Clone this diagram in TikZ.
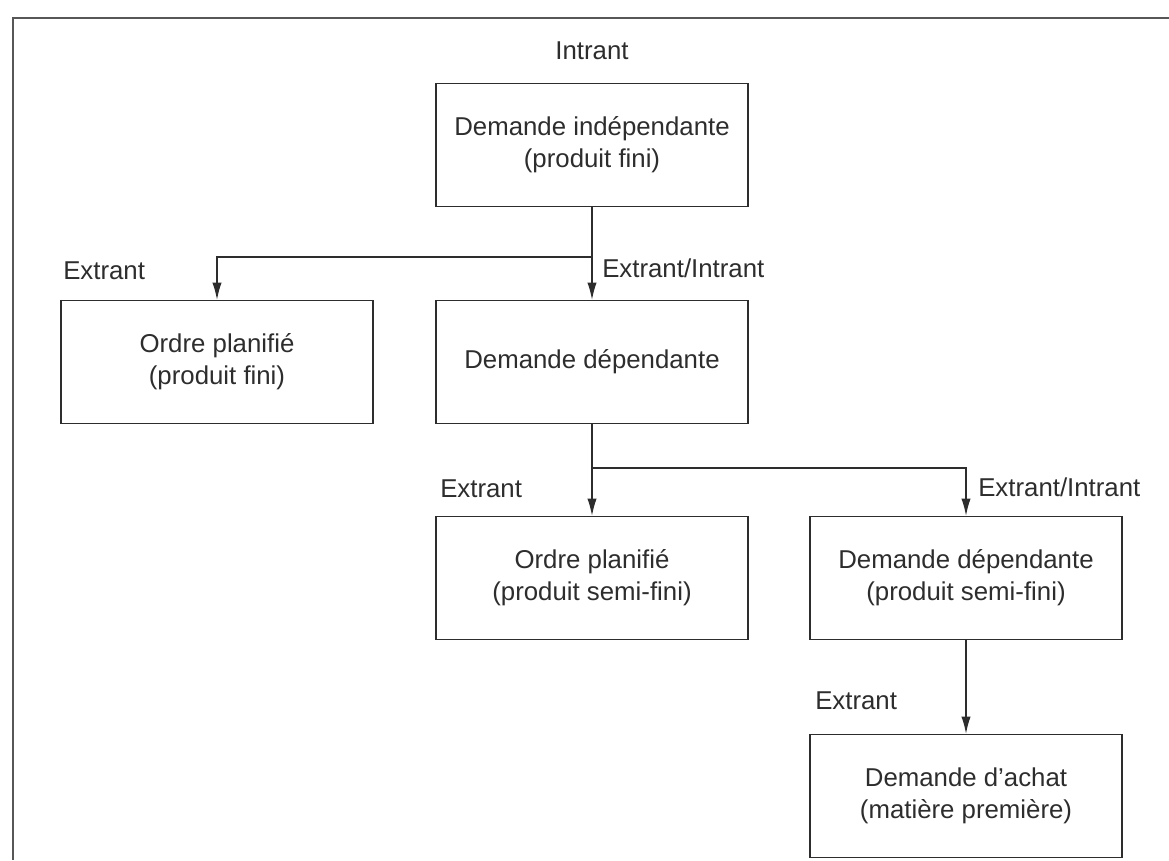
\documentclass[tikz,border=0pt]{standalone}
\usepackage{fontspec}
\setmainfont{Liberation Sans}
\usetikzlibrary{arrows.meta}
\definecolor{encre}{RGB}{45,45,45}
\newcommand{\txt}{\fontsize{19.35}{24}\selectfont}

\begin{document}
\begin{tikzpicture}[x=0.75pt,y=0.75pt,yscale=-1,xscale=1,
    bloc/.style={draw=encre, line width=1.1pt, minimum width=234pt, minimum height=92pt,
      inner sep=0pt, align=center, text=encre, font=\txt},
    fleche/.style={draw=encre, line width=1.1pt, -{Latex[length=13pt,width=7pt]}},
    etiq/.style={anchor=base west, inner sep=0pt, text=encre, font=\txt}]
        \useasboundingbox (0,0) rectangle (1169,860);

        %Frame: top and left border
        \draw [draw=encre!80, line width=1.8pt] (1169,18) -- (13,18) -- (13,860) ;

        %Shape: Rectangle [id:dmdind]
        \node [bloc] (dind) at (592,145) {Demande indépendante\\(produit fini)};
        %Shape: Rectangle [id:opfini]
        \node [bloc] (opfini) at (217,362) {Ordre planifié\\(produit fini)};
        %Shape: Rectangle [id:dmdep]
        \node [bloc] (dmdep) at (592,362) {Demande dépendante};
        %Shape: Rectangle [id:opsemi]
        \node [bloc] (opsemi) at (592,578) {Ordre planifié\\(produit semi-fini)};
        %Shape: Rectangle [id:dmsemi]
        \node [bloc] (dmsemi) at (966,578) {Demande dépendante\\(produit semi-fini)};
        %Shape: Rectangle [id:achat]
        \node [bloc] (achat) at (966,796) {Demande d'achat\\(matière première)};

        %Straight Lines
        \coordinate (j1) at (592,257);
        \coordinate (j2) at (592,468);
        \draw [fleche] (dind.south) -- (dmdep.north);
        \draw [fleche] (j1) -| (opfini.north);
        \draw [fleche] (dmdep.south) -- (opsemi.north);
        \draw [fleche] (j2) -| (dmsemi.north);
        \draw [fleche] (dmsemi.south) -- (achat.north);

        % Text Node
        \node [etiq, anchor=base] (lin) at (592,59) {Intrant};
        \node [etiq] (lex1) at (63,279) {Extrant};
        \node [etiq] (lei1) at (602,277) {Extrant/Intrant};
        \node [etiq] (lex2) at (440,497) {Extrant};
        \node [etiq] (lei2) at (978,496) {Extrant/Intrant};
        \node [etiq] (lex3) at (815,709) {Extrant};

\end{tikzpicture}
\end{document}
